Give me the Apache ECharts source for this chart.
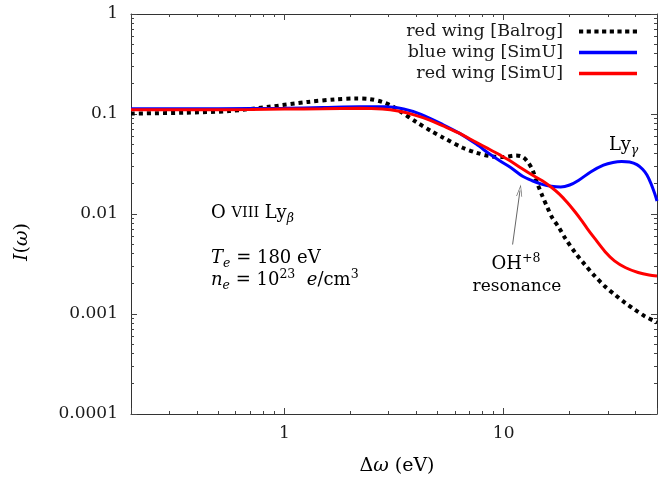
<!DOCTYPE html>
<html><head><meta charset="utf-8">
<script src="https://cdn.jsdelivr.net/npm/echarts@6/dist/echarts.min.js"></script>
<style>html,body{margin:0;padding:0;background:#fff}#c{width:660px;height:483px}</style>
</head><body><div id="c"></div>
<script>
// ---- data ----
const seriesNames = ['red wing [Balrog]', 'blue wing [SimU]', 'red wing [SimU]'];
const balrogRed = [[0.2,0.101],[0.35,0.103],[0.56,0.107],[0.85,0.118],[1.28,0.132],[1.7,0.140],[2.1,0.143],[2.45,0.141],[2.8,0.132],[3.1,0.120],[3.4,0.105],[4.0,0.083],[4.7,0.067],[5.3,0.058],[6.5,0.046],[7.5,0.041],[8.8,0.0377],[10.0,0.0372],[11.4,0.0385],[12.2,0.0372],[12.8,0.0337],[13.5,0.028],[14.2,0.0205],[15.0,0.0152],[15.8,0.0117],[16.6,0.0093],[17.8,0.0074],[19.1,0.0057],[21.2,0.0041],[23.5,0.0031],[26,0.0024],[29,0.00188],[32,0.00157],[36,0.00128],[39.5,0.00111],[44,0.00095],[48.6,0.00085],[50,0.00082]];
const simuBlue = [[0.2,0.113],[0.5,0.113],[1,0.114],[1.5,0.116],[2.2,0.118],[2.9,0.118],[3.5,0.112],[4.2,0.099],[5.3,0.078],[6.3,0.064],[7.5,0.050],[8.6,0.040],[9.6,0.034],[10.8,0.029],[12.2,0.0238],[13.5,0.0215],[15,0.0198],[16.5,0.0189],[18.2,0.0186],[20,0.0195],[22,0.0218],[25,0.0265],[28.5,0.0308],[31.5,0.0328],[34.5,0.0335],[37.5,0.0331],[40.5,0.0312],[43,0.0280],[45,0.0245],[47,0.020],[48.8,0.016],[50,0.0135]];
const simuRed = [[0.2,0.110],[0.4,0.110],[0.7,0.111],[1,0.112],[1.5,0.113],[2.2,0.114],[2.8,0.112],[3.3,0.107],[3.9,0.098],[4.6,0.087],[5.3,0.076],[6.2,0.065],[7.5,0.052],[8.5,0.045],[9.6,0.039],[10.6,0.0345],[12,0.0288],[13.5,0.0245],[15,0.0215],[16.5,0.0185],[18,0.0157],[19.5,0.0130],[21,0.0107],[22.5,0.0088],[24,0.0072],[26,0.0057],[29,0.0042],[32,0.0034],[36,0.0029],[41,0.0026],[46,0.00245],[50,0.0024]];
const xRange = [0.2, 50];
const yRange = [0.0001, 1];
const xTickLabels = ['1', '10'];          // decades 10^0, 10^1
const yTickLabels = ['0.0001', '0.001', '0.01', '0.1', '1']; // decades 10^-4 .. 10^0
const xMinorTicks = [0.3,0.4,0.5,0.6,0.7,0.8,0.9,2,3,4,5,6,7,8,9,20,30,40];
const yMinorTicks = [2e-4,3e-4,4e-4,5e-4,6e-4,7e-4,8e-4,9e-4,2e-3,3e-3,4e-3,5e-3,6e-3,7e-3,8e-3,9e-3,0.02,0.03,0.04,0.05,0.06,0.07,0.08,0.09,0.2,0.3,0.4,0.5,0.6,0.7,0.8,0.9];
const arrowTail = [10.98, 0.00495];
const arrowHead = [11.87, 0.0172];

// ---- chart ----
const FONT = 'DejaVu Serif';
const TXT = '#1a1a1a';
const chart = echarts.init(document.getElementById('c'), null, {renderer: 'canvas'});

function decadeFormatter(labels, firstExp) {
  return function (v) {
    const l = Math.log10(v);
    const k = Math.round(l);
    if (Math.abs(l - k) > 1e-6) return '';
    const s = labels[k - firstExp];
    return s === undefined ? '' : s;
  };
}
const crisp = v => Math.round(v - 0.5) + 0.5;
const tickStyle = {stroke: '#444', lineWidth: 1};

// legend sample shapes
let dotted = '';
for (let i = 0; i < 8; i++) { const x0 = i * 7.7; dotted += 'M' + x0 + ',0 L' + (x0 + 4.2) + ',0 L' + (x0 + 4.2) + ',4 L' + x0 + ',4 Z '; }
const dottedIcon = 'path://' + dotted;
const solidIcon = 'path://M0,0.3 L58,0.3 L58,3.7 L0,3.7 Z';

const axisCommon = {
  type: 'log', logBase: 10,
  axisLine: {show: true, lineStyle: {color: '#333', width: 1}},
  axisTick: {show: true, inside: true, length: 6, lineStyle: {color: '#444'}},
  splitLine: {show: false},
  minorTick: {show: false}
};

const FS = 18;
const rich = {
  n: {fontFamily: FONT, fontSize: FS, color: TXT, lineHeight: 24},
  it: {fontFamily: FONT, fontSize: FS, color: TXT, fontStyle: 'italic', lineHeight: 24},
  sc: {fontFamily: FONT, fontSize: 14.5, color: TXT, lineHeight: 24},
  sub: {fontFamily: FONT, fontSize: 12.5, color: TXT, fontStyle: 'italic', verticalAlign: 'bottom', lineHeight: 24},
  sup: {fontFamily: FONT, fontSize: 12.5, color: TXT, verticalAlign: 'top', lineHeight: 24},
  big: {fontFamily: FONT, fontSize: 19, color: TXT, lineHeight: 24},
  bigit: {fontFamily: FONT, fontSize: 19, color: TXT, fontStyle: 'italic', lineHeight: 24},
  sm: {fontFamily: FONT, fontSize: 17, color: TXT, lineHeight: 24}
};

const option = {
  animation: false,
  backgroundColor: '#fff',
  grid: {left: 131, top: 14, width: 531, height: 400, containLabel: false},
  xAxis: [
    Object.assign({}, axisCommon, {position: 'bottom', min: xRange[0], max: xRange[1],
      axisLabel: {show: true, margin: 11, fontFamily: FONT, fontSize: 17, color: TXT,
        formatter: decadeFormatter(xTickLabels, 0)}}),
    Object.assign({}, axisCommon, {position: 'top', min: xRange[0], max: xRange[1], axisLabel: {show: false}})
  ],
  yAxis: [
    Object.assign({}, axisCommon, {position: 'left', min: yRange[0], max: yRange[1],
      axisLabel: {show: true, margin: 13, fontFamily: FONT, fontSize: 17, color: TXT,
        formatter: decadeFormatter(yTickLabels, -4)}}),
    Object.assign({}, axisCommon, {position: 'right', min: yRange[0], max: yRange[1], axisLabel: {show: false}})
  ],
  legend: {
    data: [
      {name: seriesNames[0], icon: dottedIcon},
      {name: seriesNames[1], icon: solidIcon},
      {name: seriesNames[2], icon: solidIcon}
    ],
    orient: 'vertical', align: 'right',
    right: 23, top: 21, padding: 0,
    itemWidth: 58, itemHeight: 4, itemGap: 0,
    itemStyle: {borderWidth: 0},
    textStyle: {fontFamily: FONT, fontSize: 17.5, color: TXT, lineHeight: 21, padding: [0, 11, 0, 0]},
    selectedMode: false
  },
  series: [
    {name: seriesNames[0], type: 'line', data: balrogRed, symbol: 'none', smooth: 0.3,
      lineStyle: {color: '#000', width: 4, type: [4, 4], cap: 'butt'}, itemStyle: {color: '#000'}, z: 3},
    {name: seriesNames[1], type: 'line', data: simuBlue, symbol: 'none', smooth: 0.3,
      lineStyle: {color: '#0000ff', width: 3}, itemStyle: {color: '#0000ff'}, z: 4},
    {name: seriesNames[2], type: 'line', data: simuRed, symbol: 'none', smooth: 0.3,
      lineStyle: {color: '#ff0000', width: 3}, itemStyle: {color: '#ff0000'}, z: 5,
      markLine: {silent: true, symbol: ['none', 'path://M5,0 L10,14 L8.8,14 L5,3 L1.2,14 L0,14 Z'],
        symbolSize: [6, 12], label: {show: false},
        lineStyle: {color: '#666', width: 1, type: 'solid'},
        data: [[{coord: arrowTail}, {coord: arrowHead}]]}},
    {type: 'custom', silent: true, clip: false, z: 2,
      data: xMinorTicks.map(v => [v, 0.01]),
      encode: {x: 0, y: 1},
      renderItem: function (params, api) {
        const v = api.value(0);
        const b = api.coord([v, yRange[0]]);
        const t = api.coord([v, yRange[1]]);
        const x = crisp(b[0]);
        return {type: 'group', children: [
          {type: 'line', shape: {x1: x, y1: b[1], x2: x, y2: b[1] - 3}, style: tickStyle},
          {type: 'line', shape: {x1: x, y1: t[1], x2: x, y2: t[1] + 3}, style: tickStyle}
        ]};
      }},
    {type: 'custom', silent: true, clip: false, z: 2,
      data: yMinorTicks.map(v => [1, v]),
      encode: {x: 0, y: 1},
      renderItem: function (params, api) {
        const v = api.value(1);
        const l = api.coord([xRange[0], v]);
        const r = api.coord([xRange[1], v]);
        const y = crisp(l[1]);
        return {type: 'group', children: [
          {type: 'line', shape: {x1: l[0], y1: y, x2: l[0] + 3, y2: y}, style: tickStyle},
          {type: 'line', shape: {x1: r[0], y1: y, x2: r[0] - 3, y2: y}, style: tickStyle}
        ]};
      }}
  ],
  graphic: [
    {type: 'text', x: 22, y: 242, rotation: Math.PI / 2,
      style: {text: '{bigit|I}{big|(}{bigit|ω}{big|)}', rich: rich, align: 'center', verticalAlign: 'middle'}},
    {type: 'text', x: 397, y: 466,
      style: {text: '{big|Δ}{bigit|ω}{big| (eV)}', rich: rich, align: 'center', verticalAlign: 'middle'}},
    {type: 'text', x: 211, y: 201,
      style: {text: '{n|O }{sc|VIII}{n| Ly}{sub|β}', rich: rich}},
    {type: 'text', x: 211, y: 246,
      style: {text: '{it|T}{sub|e}{n| = 180 eV}', rich: rich}},
    {type: 'text', x: 211, y: 268,
      style: {text: '{it|n}{sub|e}{n| = 10}{sup|23}{it|  e}{n|/cm}{sup|3}', rich: rich}},
    {type: 'text', x: 609, y: 133,
      style: {text: '{n|Ly}{sub|γ}', rich: rich}},
    {type: 'text', x: 516, y: 252,
      style: {text: '{n|OH}{sup|+8}', rich: rich, align: 'center'}},
    {type: 'text', x: 517, y: 275,
      style: {text: '{sm|resonance}', rich: rich, align: 'center'}}
  ]
};
chart.setOption(option);
</script>
</body></html>
